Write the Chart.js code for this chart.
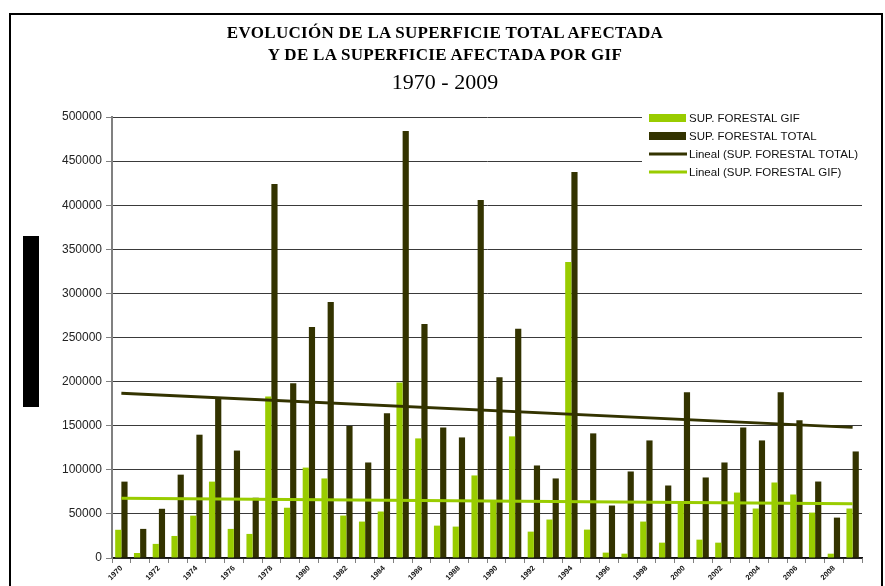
<!DOCTYPE html>
<html>
<head>
<meta charset="utf-8">
<script src="https://cdn.jsdelivr.net/npm/chart.js@4.4.1/dist/chart.umd.min.js"></script>
<style>
  html, body { margin: 0; padding: 0; background: #fff; }
  #wrap { position: relative; width: 885px; height: 586px; overflow: hidden; }
  #frame { position: absolute; left: 9px; top: 13px; width: 870px; height: 600px; border: 2px solid #000; }
  .ttl { position: absolute; left: 0; width: 890px; text-align: center; font-family: "Liberation Serif", "Times New Roman", serif; color: #000; white-space: nowrap; }
  .ttl.b { font-weight: bold; font-size: 17px; letter-spacing: 0.3px; }
  #t3 { font-size: 22px; }
  #yblock { position: absolute; left: 23px; top: 236px; width: 16px; height: 171px; background: #000; }
</style>
</head>
<body>
<div id="wrap">
  <canvas id="chart"></canvas>
  <div id="frame"></div>
  <div class="ttl b" style="top:23px">EVOLUCIÓN DE LA SUPERFICIE TOTAL AFECTADA</div>
  <div class="ttl b" style="top:45px">Y DE LA SUPERFICIE AFECTADA POR GIF</div>
  <div class="ttl" id="t3" style="top:69px">1970 - 2009</div>
  <div id="yblock"></div>
</div>
<script>
// years on the category axis
const years = ['1970', '1971', '1972', '1973', '1974', '1975', '1976', '1977', '1978', '1979',
  '1980', '1981', '1982', '1983', '1984', '1985', '1986', '1987', '1988', '1989',
  '1990', '1991', '1992', '1993', '1994', '1995', '1996', '1997', '1998', '1999',
  '2000', '2001', '2002', '2003', '2004', '2005', '2006', '2007', '2008', '2009'];

// surface burnt in large fires (GIF)
const supGif = [32000, 5700, 16000, 25000, 48000, 86600, 33000, 27300, 183000, 57000,
  102500, 90200, 48100, 41300, 52700, 198900, 135600, 36700, 35600, 93600,
  64400, 137900, 29900, 43600, 335600, 32200, 6100, 4900, 41300, 17400,
  64000, 20800, 17400, 74200, 56100, 85600, 72000, 51500, 4900, 56100];

// total forest surface burnt
const supTotal = [86600, 33000, 55800, 94500, 139800, 180500, 121800, 68300, 424000, 198100,
  262000, 290300, 149600, 108300, 164000, 484100, 265300, 148100, 136700, 405900,
  204900, 260000, 104900, 90200, 437700, 141300, 59500, 98100, 133300, 82200,
  187900, 91300, 108300, 148100, 133300, 187900, 156100, 86700, 45800, 120800];

// linear trend end values
const trendTotal = [186700, 148100];
const trendGif = [67800, 61400];

const yTicks = { min: 0, max: 500000, step: 50000 };

const GREEN = '#99cc00';
const DARK = '#333300';

const legendItems = [
  { text: 'SUP. FORESTAL GIF', color: GREEN, kind: 'box' },
  { text: 'SUP. FORESTAL TOTAL', color: DARK, kind: 'box' },
  { text: 'Lineal (SUP. FORESTAL TOTAL)', color: DARK, kind: 'line' },
  { text: 'Lineal (SUP. FORESTAL GIF)', color: GREEN, kind: 'line' }
];

// legend box sitting over the top-right of the plot, like the spreadsheet one
const boxLegend = {
  id: 'boxLegend',
  beforeDatasetsDraw(chart) {
    const ctx = chart.ctx;
    ctx.save();
    ctx.fillStyle = '#fff';
    ctx.fillRect(642, 104, 236, 80);
    ctx.font = '11.5px "Liberation Sans", Arial, sans-serif';
    ctx.textBaseline = 'middle';
    legendItems.forEach((it, i) => {
      const y = 118 + i * 18;
      if (it.kind === 'box') {
        ctx.fillStyle = it.color;
        ctx.fillRect(649, y - 4, 37, 8);
      } else {
        ctx.strokeStyle = it.color;
        ctx.lineWidth = 3;
        ctx.beginPath();
        ctx.moveTo(649, y);
        ctx.lineTo(687, y);
        ctx.stroke();
      }
      ctx.fillStyle = '#111';
      ctx.fillText(it.text, 689, y + 0.5);
    });
    ctx.restore();
  }
};

const ctx = document.getElementById('chart').getContext('2d');
new Chart(ctx, {
  data: {
    labels: years,
    datasets: [
      {
        type: 'line',
        label: 'Lineal (SUP. FORESTAL TOTAL)',
        data: [{ x: years[0], y: trendTotal[0] }, { x: years[years.length - 1], y: trendTotal[1] }],
        borderColor: DARK,
        borderWidth: 3,
        pointRadius: 0,
        tension: 0,
        order: 0
      },
      {
        type: 'line',
        label: 'Lineal (SUP. FORESTAL GIF)',
        data: [{ x: years[0], y: trendGif[0] }, { x: years[years.length - 1], y: trendGif[1] }],
        borderColor: GREEN,
        borderWidth: 3,
        pointRadius: 0,
        tension: 0,
        order: 0
      },
      {
        type: 'bar',
        label: 'SUP. FORESTAL GIF',
        data: supGif,
        backgroundColor: GREEN,
        borderWidth: 0,
        categoryPercentage: 0.66,
        barPercentage: 1.0,
        order: 1
      },
      {
        type: 'bar',
        label: 'SUP. FORESTAL TOTAL',
        data: supTotal,
        backgroundColor: DARK,
        borderWidth: 0,
        categoryPercentage: 0.66,
        barPercentage: 1.0,
        order: 1
      }
    ]
  },
  options: {
    responsive: true,
    maintainAspectRatio: false,
    animation: false,
    layout: { padding: { left: 0, right: 23, top: 117, bottom: 0 } },
    plugins: {
      legend: { display: false },
      title: { display: false },
      tooltip: { enabled: false }
    },
    scales: {
      x: {
        type: 'category',
        offset: true,
        grid: {
          offset: true,
          drawOnChartArea: false,
          drawTicks: true,
          tickLength: 5,
          color: '#808080'
        },
        border: { color: '#111', width: 1.5 },
        ticks: {
          autoSkip: false,
          minRotation: 45,
          maxRotation: 45,
          padding: 1,
          color: '#111',
          font: { family: '"Liberation Sans", Arial, sans-serif', size: 7.5, weight: 'bold' },
          callback: function (v, i) { return i % 2 === 0 ? this.getLabelForValue(v) : ''; }
        },
        afterFit: (scale) => { scale.height = 28; }
      },
      y: {
        min: yTicks.min,
        max: yTicks.max,
        grid: {
          color: '#3a3a3a',
          lineWidth: 1,
          tickLength: 6,
          tickColor: '#808080'
        },
        border: { color: '#808080', width: 2 },
        ticks: {
          stepSize: yTicks.step,
          padding: 4,
          color: '#222',
          font: { family: '"Liberation Sans", Arial, sans-serif', size: 12 },
          callback: (v) => String(v)
        },
        afterFit: (scale) => { scale.width = 112; }
      }
    }
  },
  plugins: [boxLegend]
});
</script>
</body>
</html>
